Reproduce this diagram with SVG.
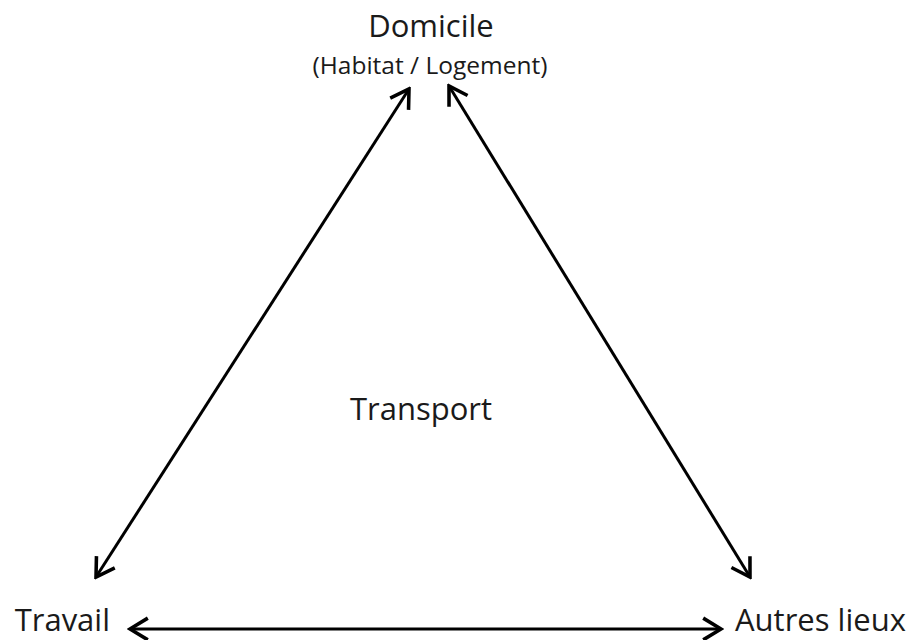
<svg xmlns="http://www.w3.org/2000/svg" width="912" height="640" viewBox="0 0 912 640">
<defs>
<style>
text{font-family:"Open Sans","Noto Sans",sans-serif;fill:#1a1a1a}
.c{stroke:#000;stroke-width:3;fill:none}
</style>
<marker id="ah" viewBox="0 0 12 14" refX="10.5" refY="7" markerWidth="7.5" markerHeight="8.75" orient="auto-start-reverse" markerUnits="strokeWidth">
<path d="M1,1.2 L10.5,7 L1,12.8" fill="none" stroke="#000" stroke-width="1.9" stroke-linejoin="miter"/>
</marker>
</defs>
<rect width="912" height="640" fill="#fff"/>
<g id="connectors">
<line class="c" x1="409" y1="89" x2="96" y2="577" marker-start="url(#ah)" marker-end="url(#ah)"/>
<line class="c" x1="449" y1="86" x2="750" y2="577" marker-start="url(#ah)" marker-end="url(#ah)"/>
<line class="c" x1="130" y1="629" x2="721" y2="629" marker-start="url(#ah)" marker-end="url(#ah)"/>
</g>
<g id="domicile">
<text x="431" y="37" font-size="31" text-anchor="middle">Domicile</text>
<text x="430" y="74" font-size="24.5" text-anchor="middle">(Habitat / Logement)</text>
</g>
<g id="transport"><text x="421" y="420" font-size="31" text-anchor="middle">Transport</text></g>
<g id="travail"><text x="110" y="631" font-size="31" text-anchor="end">Travail</text></g>
<g id="autres"><text x="735" y="631" font-size="31">Autres lieux</text></g>
</svg>
